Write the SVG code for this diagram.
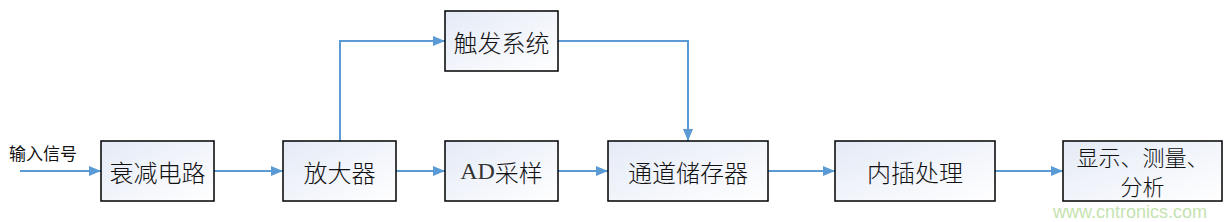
<svg xmlns="http://www.w3.org/2000/svg" width="1232" height="222" viewBox="0 0 1232 222">
<style>
.box{stroke:#000;stroke-width:1.5;fill:url(#g)}
.t{font-family:"Noto Sans CJK SC","Liberation Serif",serif;font-size:24px;fill:#111;text-anchor:middle;dominant-baseline:central;font-weight:300}
.c{stroke:#5b9bd5;stroke-width:2;fill:none;marker-end:url(#a)}
</style>
<defs>
<linearGradient id="g" x1="0" y1="0" x2="1" y2="1">
<stop offset="0" stop-color="#e4eaf6"/>
<stop offset="1" stop-color="#ffffff"/>
</linearGradient>
<marker id="a" markerWidth="12" markerHeight="10" refX="12" refY="5" orient="auto" markerUnits="userSpaceOnUse">
<path d="M0,0 L12,5 L0,10 z" fill="#5b9bd5"/>
</marker>
</defs>
<rect width="1232" height="222" fill="#fff"/>
<g id="connectors">
<path class="c" d="M20,171 H101"/>
<path class="c" d="M214,171 H283"/>
<path class="c" d="M396,171 H445"/>
<path class="c" d="M558,171 H608"/>
<path class="c" d="M768,171 H835"/>
<path class="c" d="M995,171 H1063"/>
<path class="c" d="M340,141 V41 H445"/>
<path class="c" d="M558,41 H688 V141"/>
</g>
<g id="input-label"><text x="43" y="152" style="font-family:'Noto Sans CJK SC',sans-serif;font-size:17px;fill:#111;text-anchor:middle;dominant-baseline:central">输入信号</text></g>
<g id="n1"><rect class="box" x="101" y="141" width="113" height="60"/><text class="t" x="157.5" y="171">衰减电路</text></g>
<g id="n2"><rect class="box" x="283" y="141" width="113" height="60"/><text class="t" x="339.5" y="171">放大器</text></g>
<g id="n3"><rect class="box" x="445" y="11" width="113" height="60"/><text class="t" x="501.5" y="41">触发系统</text></g>
<g id="n4"><rect class="box" x="445" y="141" width="113" height="60"/><text class="t" x="501.5" y="171"><tspan style="font-family:'Liberation Serif',serif;font-weight:normal;fill:#333">AD</tspan>采样</text></g>
<g id="n5"><rect class="box" x="608" y="141" width="160" height="60"/><text class="t" x="688" y="171">通道储存器</text></g>
<g id="n6"><rect class="box" x="835" y="141" width="160" height="60"/><text class="t" x="915" y="171">内插处理</text></g>
<g id="n7"><rect class="box" x="1063" y="141" width="159" height="60"/><text class="t" x="1142.5" y="156" style="font-size:22px">显示、测量、</text><text class="t" x="1142.5" y="185" style="font-size:22px">分析</text></g>
<text x="1130" y="212" style="font-family:'Liberation Sans',sans-serif;font-size:18px;fill:#c5e3b0;text-anchor:middle;dominant-baseline:central">www.cntronics.com</text>
</svg>
